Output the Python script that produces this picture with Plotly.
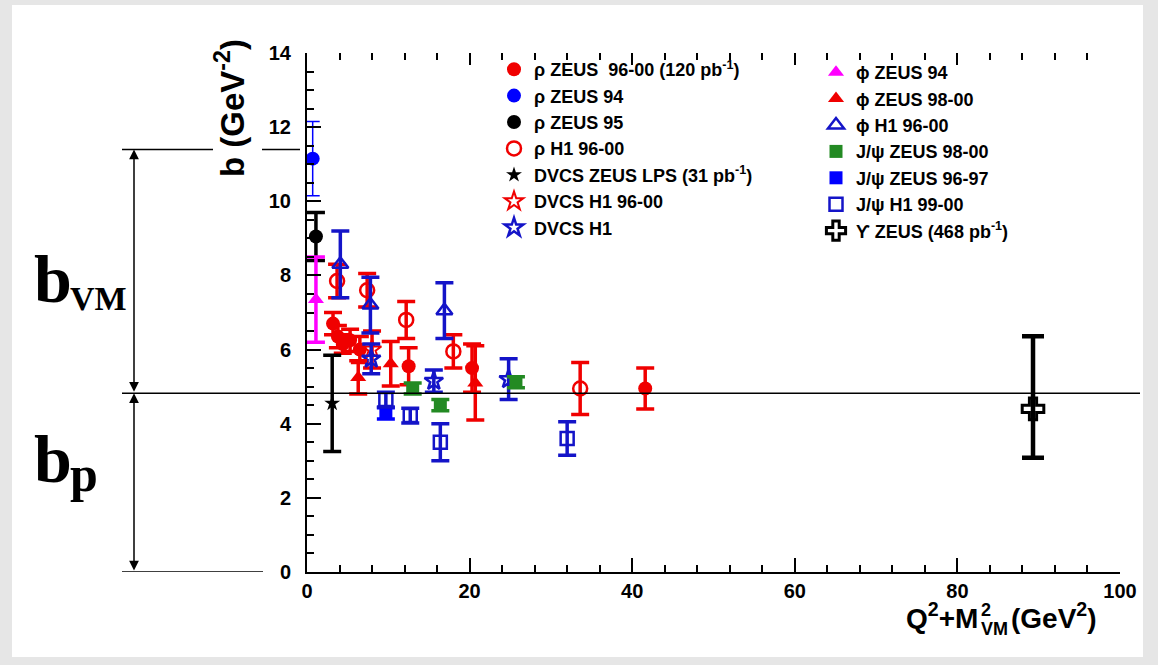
import plotly.graph_objects as go

# ---------------- data ----------------
# x = Q^2 + M_VM^2 (GeV^2), b (GeV^-2)
rho_zeus9600_x = [3.2, 3.8, 4.4, 5.3, 6.5, 12.5, 20.3, 41.6]
rho_zeus9600_b = [6.7, 6.35, 6.15, 6.25, 6.0, 5.55, 5.5, 4.95]
rho_zeus9600_err = [0.3, 0.3, 0.25, 0.3, 0.35, 0.5, 0.65, 0.55]

rho_zeus94_x = [0.7]
rho_zeus94_b = [11.15]
rho_zeus94_err = [1.0]

rho_zeus95_x = [1.1]
rho_zeus95_b = [9.05]
rho_zeus95_err = [0.65]

rho_h1_x = [3.7, 7.4, 12.2, 18.0, 33.6]
rho_h1_b = [7.85, 7.6, 6.8, 5.95, 4.95]
rho_h1_err = [0.45, 0.45, 0.5, 0.45, 0.7]

dvcs_zeus_x = [3.1]
dvcs_zeus_b = [4.55]
dvcs_zeus_err = [1.3]

dvcs_h1_9600_x = [8.0]
dvcs_h1_9600_b = [6.0]
dvcs_h1_9600_err = [0.5]

dvcs_h1_x = [7.9, 15.6, 24.8]
dvcs_h1_b = [5.75, 5.15, 5.2]
dvcs_h1_err = [0.4, 0.3, 0.55]

phi_zeus94_x = [1.1]
phi_zeus94_b = [7.35]
phi_zeus94_err = [1.15]

phi_zeus9800_x = [6.3, 10.3, 20.7]
phi_zeus9800_b = [5.25, 5.62, 5.1]
phi_zeus9800_err = [0.45, 0.6, 1.0]

phi_h1_x = [4.1, 7.8, 16.9]
phi_h1_b = [8.3, 7.2, 7.05]
phi_h1_err = [0.9, 0.75, 0.75]

jpsi_zeus9800_x = [13.0, 16.4, 25.7]
jpsi_zeus9800_b = [4.95, 4.5, 5.12]
jpsi_zeus9800_err = [0.15, 0.15, 0.15]

jpsi_zeus9697_x = [9.7]
jpsi_zeus9697_b = [4.28]
jpsi_zeus9697_err = [0.15]

jpsi_h1_x = [9.7, 12.7, 16.4, 32.0]
jpsi_h1_b = [4.65, 4.22, 3.5, 3.6]
jpsi_h1_err = [0.2, 0.2, 0.5, 0.45]

ups_zeus_x = [89.3]
ups_zeus_b = [4.4]
ups_zeus_err_up = [1.96]
ups_zeus_err_down = [1.32]

b_p_level = 4.82      # dividing line b_p
b_total_level = 11.4  # top of the b_VM arrow

FONT = "Liberation Sans, Arial, sans-serif"
SERIF = "Liberation Serif, Times New Roman, serif"

RED = "#f00000"
BLUE = "#0000ff"
DBLUE = "#1414c8"
GREEN = "#238a23"
MAGENTA = "#ff00ff"


# plot area in pixels: x 307..1120, y 53..572
def px2x(px):
    return (px - 307) / 813


def py2y(py):
    return (572 - py) / 519


fig = go.Figure()


def add_series(name, x, y, err, symbol, color, legend, size=14, lw=0,
               thick=3.5, cap=9, err_down=None):
    ey = dict(type="data", array=err, color=color, thickness=thick, width=cap)
    if err_down is not None:
        ey["symmetric"] = False
        ey["arrayminus"] = err_down
    fig.add_trace(go.Scatter(
        x=x, y=y, mode="markers", name=name, legend=legend,
        marker=dict(symbol=symbol, color=color, size=size,
                    line=dict(width=lw, color=color)),
        error_y=ey,
    ))


# legend 1 (left column)
add_series("ρ ZEUS  96-00 (120 pb<sup>-1</sup>)", rho_zeus9600_x, rho_zeus9600_b,
           rho_zeus9600_err, "circle", RED, "legend")
add_series("ρ ZEUS 94", rho_zeus94_x, rho_zeus94_b, rho_zeus94_err,
           "circle", BLUE, "legend", thick=1.5, cap=7)
add_series("ρ ZEUS 95", rho_zeus95_x, rho_zeus95_b, rho_zeus95_err,
           "circle", "black", "legend")
add_series("ρ H1 96-00", rho_h1_x, rho_h1_b, rho_h1_err,
           "circle-open", RED, "legend", lw=2.5)
add_series("DVCS ZEUS LPS (31 pb<sup>-1</sup>)", dvcs_zeus_x, dvcs_zeus_b,
           dvcs_zeus_err, "star", "black", "legend", size=12)
add_series("DVCS H1 96-00", dvcs_h1_9600_x, dvcs_h1_9600_b, dvcs_h1_9600_err,
           "star-open", RED, "legend", lw=2)
add_series("DVCS H1", dvcs_h1_x, dvcs_h1_b, dvcs_h1_err,
           "star-open", DBLUE, "legend", lw=2.5)

# legend 2 (right column)
add_series("ϕ ZEUS 94", phi_zeus94_x, phi_zeus94_b, phi_zeus94_err,
           "triangle-up", MAGENTA, "legend2")
add_series("ϕ ZEUS 98-00", phi_zeus9800_x, phi_zeus9800_b, phi_zeus9800_err,
           "triangle-up", RED, "legend2")
add_series("ϕ H1 96-00", phi_h1_x, phi_h1_b, phi_h1_err,
           "triangle-up-open", DBLUE, "legend2", lw=2.5)
add_series("J/ψ ZEUS 98-00", jpsi_zeus9800_x, jpsi_zeus9800_b, jpsi_zeus9800_err,
           "square", GREEN, "legend2", size=13)
add_series("J/ψ ZEUS 96-97", jpsi_zeus9697_x, jpsi_zeus9697_b, jpsi_zeus9697_err,
           "square", BLUE, "legend2", size=13)
add_series("J/ψ H1 99-00", jpsi_h1_x, jpsi_h1_b, jpsi_h1_err,
           "square-open", DBLUE, "legend2", size=13, lw=2.5)
add_series("ϒ ZEUS (468 pb<sup>-1</sup>)", ups_zeus_x, ups_zeus_b, ups_zeus_err_up,
           "cross-open", "black", "legend2", size=18, lw=3, thick=4.5, cap=11,
           err_down=ups_zeus_err_down)

# dummy trace so the mirrored top tick axis is drawn
fig.add_trace(go.Scatter(x=[None], y=[None], xaxis="x2", showlegend=False,
                         hoverinfo="skip"))

tick_font = dict(family=FONT, size=20, color="black", weight="bold")
leg_font = dict(family=FONT, size=18, color="black", weight="bold")

fig.update_layout(
    width=1158, height=665, autosize=False,
    margin=dict(l=307, r=38, t=53, b=93),
    paper_bgcolor="#e6e6e6", plot_bgcolor="white",
    xaxis=dict(range=[0, 100], showgrid=False, zeroline=False,
               showline=True, linecolor="black", linewidth=2,
               ticks="inside", ticklen=14, tickwidth=2, tickcolor="black",
               dtick=20, tick0=0, tickfont=tick_font, ticklabelstandoff=0,
               minor=dict(ticks="inside", dtick=4, ticklen=7, tickwidth=1.5,
                          tickcolor="black")),
    xaxis2=dict(overlaying="x", side="top", anchor="y", range=[0, 100],
                showgrid=False, zeroline=False, showline=False,
                showticklabels=False,
                ticks="inside", ticklen=12, tickwidth=2, tickcolor="black",
                dtick=20, tick0=0,
                minor=dict(ticks="inside", dtick=4, ticklen=7, tickwidth=1.5,
                           tickcolor="black")),
    yaxis=dict(range=[0, 14], showgrid=False, zeroline=False,
               showline=True, linecolor="black", linewidth=2,
               ticks="inside", ticklen=14, tickwidth=2, tickcolor="black",
               dtick=2, tick0=0, tickfont=tick_font, ticklabelstandoff=10,
               minor=dict(ticks="inside", dtick=0.5, ticklen=7, tickwidth=1.5,
                          tickcolor="black")),
    legend=dict(x=px2x(494), y=py2y(51), xanchor="left", yanchor="top",
                bgcolor="rgba(0,0,0,0)", font=leg_font, traceorder="normal"),
    legend2=dict(x=px2x(816), y=py2y(54), xanchor="left", yanchor="top",
                 bgcolor="rgba(0,0,0,0)", font=leg_font, traceorder="normal"),
)

# white page with grey frame
shapes = [dict(type="rect", xref="paper", yref="paper", layer="below",
               x0=px2x(12), x1=px2x(1143), y0=py2y(657), y1=py2y(5),
               fillcolor="white", line=dict(width=0))]
line_style = dict(color="black", width=1.5)
shapes += [
    dict(type="line", xref="paper", yref="y", x0=px2x(122), x1=px2x(1140),
         y0=b_p_level, y1=b_p_level, line=line_style),
    dict(type="line", xref="paper", yref="y", x0=px2x(122), x1=px2x(213),
         y0=b_total_level, y1=b_total_level, line=line_style),
    dict(type="line", xref="paper", yref="y", x0=px2x(262), x1=px2x(300),
         y0=b_total_level, y1=b_total_level, line=line_style),
    dict(type="line", xref="paper", yref="y", x0=px2x(122), x1=px2x(263),
         y0=0, y1=0, line=line_style),
]
fig.update_layout(shapes=shapes)

annotations = []
# double arrows
for top, bottom in [(b_total_level, b_p_level), (b_p_level, 0)]:
    annotations.append(dict(
        xref="paper", yref="y", x=px2x(134), y=top, text="",
        showarrow=True, axref="pixel", ayref="y", ax=0, ay=bottom,
        arrowside="end+start", arrowhead=2, startarrowhead=2,
        arrowsize=1.3, startarrowsize=1.3, arrowwidth=1.5, arrowcolor="black",
        standoff=0, startstandoff=0))

serif_big = dict(family=SERIF, size=68, color="black", weight="bold")
annotations += [
    dict(xref="paper", yref="paper", x=px2x(32), y=py2y(279), text="b",
         showarrow=False, xanchor="left", yanchor="middle", font=serif_big),
    dict(xref="paper", yref="paper", x=px2x(68), y=py2y(298), text="VM",
         showarrow=False, xanchor="left", yanchor="middle",
         font=dict(family=SERIF, size=34, color="black", weight="bold")),
    dict(xref="paper", yref="paper", x=px2x(32), y=py2y(459), text="b",
         showarrow=False, xanchor="left", yanchor="middle", font=serif_big),
    dict(xref="paper", yref="paper", x=px2x(68), y=py2y(474), text="p",
         showarrow=False, xanchor="left", yanchor="middle",
         font=dict(family=SERIF, size=50, color="black", weight="bold")),
]

title_font = dict(family=FONT, size=28, color="black", weight="bold")
small_font = dict(family=FONT, size=18, color="black", weight="bold")
annotations += [
    dict(xref="paper", yref="paper", x=px2x(230), y=py2y(108),
         text="b (GeV<sup>-2</sup>)", textangle=-90, showarrow=False,
         xanchor="center", yanchor="middle",
         font=dict(family=FONT, size=33, color="black", weight="bold")),
    dict(xref="paper", yref="paper", x=px2x(980), y=py2y(616),
         text="Q<sup>2</sup>+M", showarrow=False,
         xanchor="right", yanchor="middle", font=title_font),
    dict(xref="paper", yref="paper", x=px2x(979), y=py2y(610), text="2",
         showarrow=False, xanchor="left", yanchor="middle", font=small_font),
    dict(xref="paper", yref="paper", x=px2x(979), y=py2y(629), text="VM",
         showarrow=False, xanchor="left", yanchor="middle", font=small_font),
    dict(xref="paper", yref="paper", x=px2x(1009), y=py2y(616),
         text="(GeV<sup>2</sup>)", showarrow=False,
         xanchor="left", yanchor="middle", font=title_font),
]
fig.update_layout(annotations=annotations)

fig.write_html("out.html", config={"displayModeBar": False},
               post_script="document.body.style.margin='0px';")
